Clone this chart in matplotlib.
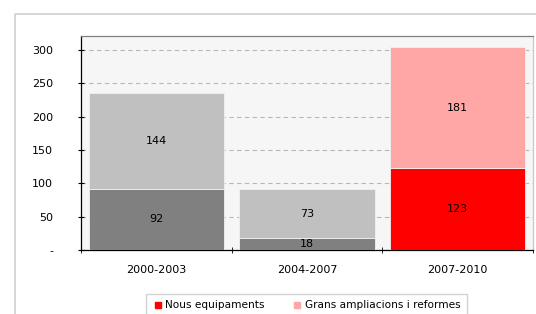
import matplotlib
matplotlib.use("Agg")
import matplotlib.pyplot as plt
from matplotlib.lines import Line2D
import numpy as np

categories = ["2000-2003", "2004-2007", "2007-2010"]
base_values = [92, 18, 123]
top_values = [144, 73, 181]
base_colors = ["#808080", "#808080", "#ff0000"]
top_colors = ["#c0c0c0", "#c0c0c0", "#ffa6a6"]
legend_labels = ["Nous equipaments", "Grans ampliacions i reformes"]
legend_colors = ["#ff0000", "#ffa6a6"]
yticks = [0, 50, 100, 150, 200, 250, 300]
ytick_labels = ["-", "50", "100", "150", "200", "250", "300"]

plt.rcParams['font.family'] = ['DejaVu Sans']

fig = plt.figure(figsize=(5.36, 3.14), dpi=100)
ax = fig.add_axes([81/536, 1-250/314, 452/536, 214/314])
ax.set_facecolor("#f6f6f6")

x = np.arange(len(categories))
w = 0.9
ax.bar(x, base_values, width=w, color=base_colors, edgecolor="#f0f0f0", linewidth=0.6, zorder=3)
ax.bar(x, top_values, bottom=base_values, width=w, color=top_colors, edgecolor="#f0f0f0", linewidth=0.6, zorder=3)

for i in range(len(categories)):
    ax.text(x[i], base_values[i]/2, str(base_values[i]), ha="center", va="center", fontsize=8, zorder=4)
    ax.text(x[i], base_values[i] + top_values[i]/2, str(top_values[i]), ha="center", va="center", fontsize=8, zorder=4)

ax.set_xlim(-0.5, 2.5)
ax.set_ylim(0, 321)
ax.set_yticks(yticks)
ax.set_yticklabels(ytick_labels, fontsize=8)
ax.yaxis.grid(True, linestyle=(0, (4, 3)), color="#b8b8b8", linewidth=0.8, zorder=1)
ax.set_xticks(x)
ax.set_xticklabels(categories, fontsize=8)
ax.tick_params(axis="x", which="major", length=0, pad=11)
ax.set_xticks([-0.5, 0.5, 1.5, 2.5], minor=True)
ax.tick_params(axis="x", which="minor", length=4, direction="inout", color="black")
ax.tick_params(axis="y", length=4, direction="inout", pad=18, color="black")

ax.spines["left"].set_color("black")
ax.spines["bottom"].set_color("black")
ax.spines["top"].set_color("#808080")
ax.spines["right"].set_color("#c8c8c8")
for s in ax.spines.values():
    s.set_linewidth(0.9)

# outer chart frame
fig.add_artist(Line2D([15/536, 15/536, 1.0], [0.0, 1-14/314, 1-14/314],
                      transform=fig.transFigure, color="#d0d0d0", linewidth=1.2))

handles = [Line2D([], [], marker="s", linestyle="none", markersize=5,
                  markerfacecolor=c, markeredgecolor=c) for c in legend_colors]
leg = fig.legend(handles, legend_labels, loc="upper left",
                 bbox_to_anchor=(146/536, 1-294/314), borderaxespad=0, ncol=2, fontsize=7.6,
                 frameon=True, fancybox=False, borderpad=0.6, handletextpad=0.2,
                 columnspacing=2.6, handlelength=1.0)
leg.get_frame().set_edgecolor("#c8c8c8")
leg.get_frame().set_linewidth(1.0)

fig.savefig("out.png", dpi=100)
